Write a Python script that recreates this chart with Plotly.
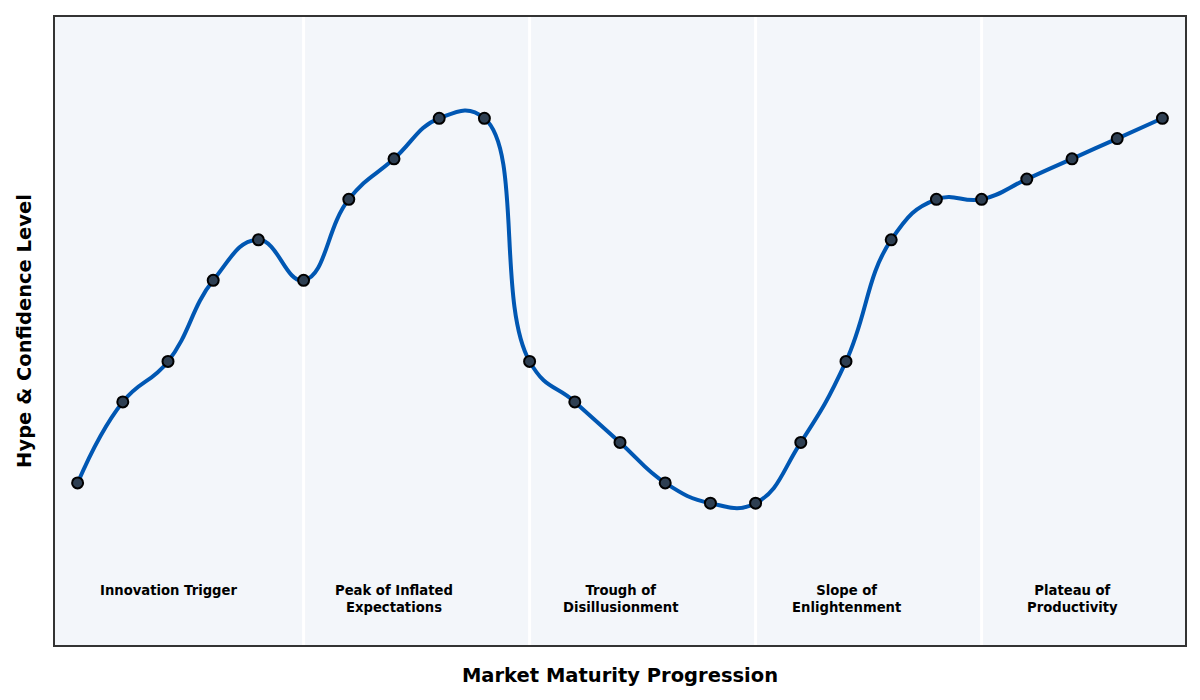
import plotly.graph_objects as go

# etapas del ciclo
etapa = list(range(25))
hype = [20, 40, 50, 70, 80, 70, 90, 100, 110, 110,
        50, 40, 30, 20, 15, 15, 30, 50, 80, 90,
        90, 95, 100, 105, 110]

fases = ["Innovation Trigger", "Peak of Inflated<br>Expectations",
         "Trough of<br>Disillusionment", "Slope of<br>Enlightenment",
         "Plateau of<br>Productivity"]
centrosFases = [2, 7, 12, 17, 22]
limitesFases = [5, 10, 15, 20]

fig = go.Figure()

fig.add_trace(go.Scatter(
    x=etapa, y=hype, mode="lines+markers",
    line=dict(color="#0057b3", width=4, shape="spline", smoothing=1.3),
    marker=dict(size=11, color="#2e3f52", line=dict(color="black", width=2)),
    showlegend=False, hoverinfo="skip"))

for lim in limitesFases:
    fig.add_vline(x=lim, line_color="white", line_width=3, layer="below")

for c, f in zip(centrosFases, fases):
    fig.add_annotation(x=c, y=-4.2, text="<b>" + f + "</b>", showarrow=False,
                       font=dict(size=13.2, color="black", family="DejaVu Sans"),
                       yanchor="top")

fig.update_layout(
    width=1200, height=700,
    margin=dict(l=47, r=23, t=7, b=63),
    paper_bgcolor="white", plot_bgcolor="#f3f6fa",
    font=dict(family="DejaVu Sans", color="black"),
    xaxis=dict(range=[-0.5, 24.5], showticklabels=False, showgrid=False,
               zeroline=False, showline=True, linecolor="#333333", linewidth=1.5,
               mirror=True, ticks="",
               title=dict(text="<b>Market Maturity Progression</b>",
                          font=dict(size=19.5), standoff=23)),
    yaxis=dict(range=[-20, 135], showticklabels=False, showgrid=False,
               zeroline=False, showline=True, linecolor="#333333", linewidth=1.5,
               mirror=True, ticks="",
               title=dict(text="<b>Hype & Confidence Level</b>",
                          font=dict(size=19.5), standoff=16)),
)

fig.write_html("out.html")
